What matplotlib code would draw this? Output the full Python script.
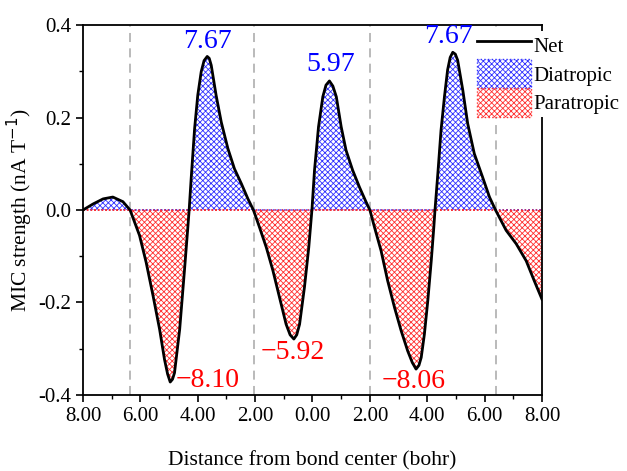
import numpy as np
import matplotlib
matplotlib.use("Agg")
import matplotlib.pyplot as plt
from matplotlib.ticker import MultipleLocator, FuncFormatter
from matplotlib.patches import Patch
from matplotlib.lines import Line2D

plt.rcParams["font.family"] = ["Liberation Serif", "DejaVu Serif"]
plt.rcParams["axes.unicode_minus"] = False
plt.rcParams["hatch.linewidth"] = 0.6

# net MIC strength along the path
dist = [-8.00, -7.65, -7.30, -6.96, -6.61, -6.36, -6.03, -5.80, -5.56, -5.33,
        -5.16, -5.05, -4.96, -4.88, -4.81, -4.63, -4.46, -4.35, -4.30, -4.23,
        -4.11, -4.00, -3.88, -3.78, -3.67, -3.60, -3.53, -3.36, -3.18, -2.95,
        -2.72, -2.48, -2.25, -2.06, -1.85, -1.61, -1.38, -1.15, -0.92, -0.78,
        -0.65, -0.55, -0.45, -0.28, -0.13, -0.02, 0.07, 0.21, 0.36, 0.47,
        0.59, 0.71, 0.83, 1.00, 1.17, 1.40, 1.64, 1.87, 2.00, 2.16,
        2.39, 2.62, 2.86, 3.09, 3.32, 3.48, 3.61, 3.71, 3.79, 3.90,
        4.02, 4.14, 4.23, 4.27, 4.37, 4.48, 4.60, 4.71, 4.80, 4.89,
        4.98, 5.06, 5.24, 5.41, 5.64, 5.93, 6.17, 6.38, 6.75, 7.10,
        7.45, 7.73, 8.00]
net = [0.000, 0.013, 0.024, 0.028, 0.018, 0.000, -0.055, -0.113, -0.185, -0.258,
       -0.323, -0.355, -0.372, -0.366, -0.352, -0.258, -0.128, -0.041, 0.000, 0.068,
       0.176, 0.248, 0.299, 0.323, 0.332, 0.328, 0.313, 0.248, 0.190, 0.133,
       0.089, 0.057, 0.024, 0.000, -0.037, -0.081, -0.131, -0.189, -0.247, -0.270,
       -0.279, -0.270, -0.247, -0.167, -0.081, 0.000, 0.086, 0.180, 0.245, 0.270,
       0.279, 0.268, 0.245, 0.180, 0.129, 0.086, 0.049, 0.017, 0.000, -0.037,
       -0.088, -0.153, -0.211, -0.261, -0.305, -0.330, -0.344, -0.336, -0.319, -0.269,
       -0.196, -0.110, -0.037, 0.000, 0.079, 0.172, 0.245, 0.303, 0.330, 0.341,
       0.337, 0.324, 0.259, 0.187, 0.122, 0.071, 0.028, 0.000, -0.044, -0.073,
       -0.110, -0.153, -0.193]

# bond positions (dashed lines)
bonds = [-6.37, -2.04, 2.00, 6.38]

# peak labels: text, x, y
dia_labels = ["7.67", "5.97", "7.67"]
dia_x = [-3.65, 0.64, 4.73]
dia_y = [0.337, 0.288, 0.349]
para_labels = ["\u22128.10", "\u22125.92", "\u22128.06"]
para_x = [-4.78, -1.82, 2.42]
para_y = [-0.369, -0.309, -0.371]

x = np.array(dist)
y = np.array(net)
dia = np.clip(y, 0, None)
para = np.clip(y, None, 0)

fig = plt.figure(figsize=(6.27, 4.71), dpi=100)
ax = fig.add_axes([0.1324, 0.1614, 0.7320, 0.7855])

for b in bonds:
    ax.axvline(b, color="#b4b4b4", ls=(0, (5, 3.5)), lw=1.3, zorder=1)

hatch = "xxxxxx"
ax.fill_between(x, 0, dia, facecolor="none", edgecolor="#3030ff", hatch=hatch,
                linestyle=":", linewidth=1.0, zorder=2)
ax.fill_between(x, 0, para, facecolor="none", edgecolor="#ff3030", hatch=hatch,
                linestyle=":", linewidth=1.0, zorder=2)
ax.plot(x, y, color="black", lw=2.0, solid_joinstyle="round", zorder=3)

for t, tx, ty in zip(dia_labels, dia_x, dia_y):
    ax.text(tx, ty, t, color="#0000ff", fontsize=20, ha="center", va="bottom")
for t, tx, ty in zip(para_labels, para_x, para_y):
    ax.text(tx, ty, t, color="#ff0000", fontsize=20, ha="left", va="center")

ax.set_xlim(-8, 8)
ax.set_ylim(-0.4, 0.4)
ax.xaxis.set_major_locator(MultipleLocator(2))
ax.xaxis.set_minor_locator(MultipleLocator(1))
ax.yaxis.set_major_locator(MultipleLocator(0.2))
ax.yaxis.set_minor_locator(MultipleLocator(0.1))
ax.xaxis.set_major_formatter(FuncFormatter(lambda v, p: f"{abs(v):.2f}"))
ax.yaxis.set_major_formatter(FuncFormatter(lambda v, p: f"{v:.1f}" if abs(v) > 1e-9 else "0.0"))
ax.tick_params(which="major", direction="out", length=5, width=1.2, labelsize=15)
ax.tick_params(which="minor", direction="out", length=3, width=1.0)
for s in ax.spines.values():
    s.set_linewidth(1.3)

ax.set_xlabel("Distance from bond center (bohr)", fontsize=15.5, labelpad=18)
ax.set_ylabel("MIC strength (nA T$^{-1}$)", fontsize=15.5, labelpad=2)

handles = [Line2D([], [], color="black", lw=2.0),
           Patch(facecolor="none", edgecolor="#3030ff", hatch=hatch, linestyle=":", linewidth=1.0),
           Patch(facecolor="none", edgecolor="#ff3030", hatch=hatch, linestyle=":", linewidth=1.0)]
leg = fig.legend(handles, ["Net", "Diatropic", "Paratropic"], loc="upper left",
                 bbox_to_anchor=(0.760, 0.935), frameon=True, fancybox=False,
                 edgecolor="none", facecolor="white", framealpha=1.0,
                 fontsize=15, borderpad=0.0, borderaxespad=0.0,
                 handlelength=2.6, handleheight=1.75, handletextpad=0.15,
                 labelspacing=0.0)
leg.set_zorder(10)

fig.savefig("out.png", dpi=100)
